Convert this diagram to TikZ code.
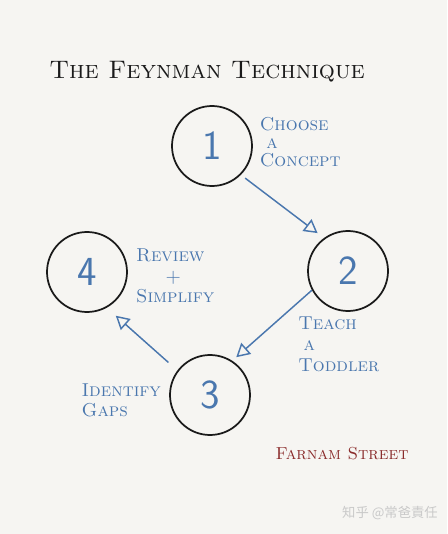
\documentclass[tikz,border=0pt]{standalone}
\usepackage{fontspec}
\usepackage{tikz}
\usepackage{xcolor}
\usetikzlibrary{arrows.meta,positioning}
\newfontfamily\cjkfont{Noto Sans CJK SC}
\definecolor{PaperWhite}{HTML}{F6F5F2}
\definecolor{InkBlack}{HTML}{1A1A1A}
\definecolor{PenBlue}{HTML}{4A77AE}
\definecolor{StreetRed}{HTML}{8A2B2B}
\definecolor{MarkGray}{HTML}{C9C9C9}

\begin{document}
\begin{tikzpicture}[
      x=0.75pt,y=-0.75pt,
      stage/.style={circle,draw=InkBlack,line width=1.3pt,minimum size=60pt,inner sep=0pt,
        text=PenBlue,font=\fontsize{31}{31}\selectfont\sffamily},
      note/.style={text=PenBlue,align=left,inner sep=0pt,
        font=\fontsize{14}{15.5}\selectfont\scshape},
      flow/.style={draw=PenBlue,line width=1.1pt,
        -{Triangle[open,length=10pt,width=11pt,line width=1.1pt]}},
      >=Latex
    ]
      \fill[PaperWhite] (0,0) rectangle (447,534);
      \useasboundingbox (0,0) rectangle (447,534);
      \node[text=InkBlack,font=\fontsize{19}{22}\selectfont\scshape] (title) at (207,72) {The Feynman Technique};
      % the four stages
      \node[stage] (c1) at (212,146) {1};
      \node[stage] (c2) at (348,271) {2};
      \node[stage] (c3) at (210,395) {3};
      \node[stage] (c4) at (87,272) {4};
      \node[note,font=\fontsize{14}{13.5}\selectfont\scshape,right=5pt of c1,yshift=3pt] (n1) {Choose\\\hspace{5pt}a\\Concept};
      \node[note,anchor=north west] (n2) at (298,317) {Teach\\\hspace{4pt}a\\Toddler};
      \node[note,right=6pt of c4,yshift=-3pt] (n4) {Review\\\hspace{22pt}+\\Simplify};
      \node[note,left=6pt of c3,yshift=-4pt] (n3) {Identify\\Gaps};
      \draw[flow,shorten <=4pt,shorten >=6pt] (c1.-45) -- (c2.126);
      \draw[flow,shorten >=4pt] (c2.208) -- (c3.57);
      \draw[flow,shorten <=9pt,shorten >=9pt] (c3.143) -- (c4.-61);
      \node[text=StreetRed,font=\fontsize{13}{15}\selectfont\scshape] (src) at (342,454) {Farnam Street};
      \node[text=MarkGray,font=\fontsize{10}{12}\selectfont\cjkfont] (mark) at (390,513) {知乎 @常爸責任};
    \end{tikzpicture}
\end{document}
